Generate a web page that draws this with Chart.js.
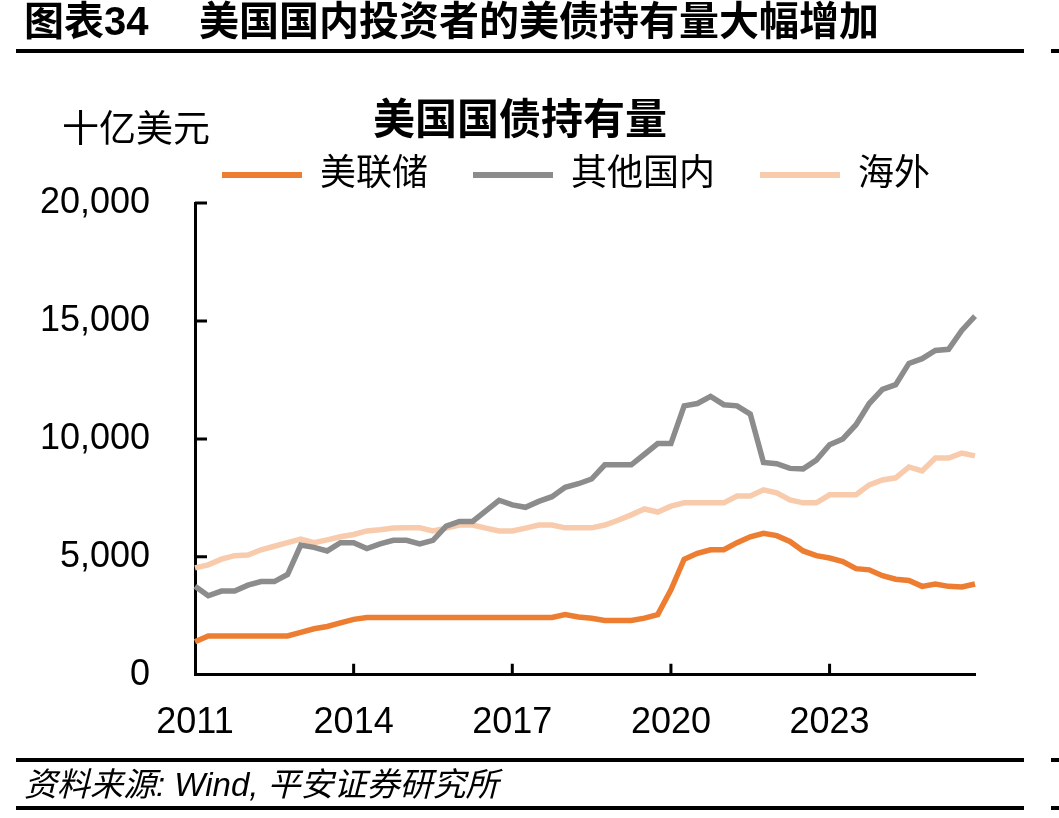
<!DOCTYPE html>
<html lang="zh-CN">
<head>
    <meta charset="UTF-8">
    <title>美国国债持有量</title>
    <script src="https://cdn.jsdelivr.net/npm/chart.js"></script>
    <style>
        body { margin: 0; background: #fff; font-family: "Liberation Sans", "Noto Sans CJK SC", sans-serif; }
        .page { position: relative; width: 1059px; height: 818px; overflow: hidden; background: #fff; }
        #holdChart { position: absolute; left: 0; top: 0; }
        .txt { position: absolute; white-space: nowrap; line-height: 1; color: #000; }
        .rule { position: absolute; background: #000; }
    </style>
</head>
<body>
<div class="page">
    <canvas id="holdChart" width="1059" height="818"></canvas>

    <div class="txt" style="left:24px; top:1px; font-size:40px; font-weight:bold;">图表34</div>
    <div class="txt" style="left:199px; top:1px; font-size:40px; font-weight:bold;">美国国内投资者的美债持有量大幅增加</div>
    <div class="rule" style="left:16px; top:49px; width:1008px; height:4px;"></div>
    <div class="rule" style="left:1051px; top:49px; width:8px; height:4px;"></div>

    <div class="txt" style="left:373px; top:99px; font-size:42px; font-weight:bold;">美国国债持有量</div>
    <div class="txt" style="left:62px; top:111px; font-size:37px;">十亿美元</div>

    <div class="rule" style="left:16px; top:758px; width:1008px; height:4px;"></div>
    <div class="rule" style="left:1051px; top:758px; width:8px; height:4px;"></div>
    <div class="txt" style="left:24px; top:768px; font-size:33px; font-style:italic;">资料来源: Wind, 平安证券研究所</div>
    <div class="rule" style="left:16px; top:806px; width:1008px; height:4px;"></div>
    <div class="rule" style="left:1051px; top:806px; width:8px; height:4px;"></div>
</div>

<script>
    // quarterly, 2011Q1 - 2025Q4
    const years = ['2011', '2012', '2013', '2014', '2015', '2016', '2017', '2018',
                   '2019', '2020', '2021', '2022', '2023', '2024', '2025'];
    const quarters = [];
    years.forEach(y => ['Q1', 'Q2', 'Q3', 'Q4'].forEach(q => quarters.push(y + q)));

    const xTickYears = ['2011', '2014', '2017', '2020', '2023'];
    const yTicks = [0, 5000, 10000, 15000, 20000];

    // 十亿美元
    const fedHoldings = [
        1400, 1650, 1650, 1650, 1650, 1650, 1650, 1650, 1800, 1950,
        2050, 2200, 2350, 2430, 2430, 2430, 2430, 2430, 2430, 2430,
        2430, 2430, 2430, 2430, 2430, 2430, 2430, 2430, 2550, 2450,
        2400, 2300, 2300, 2300, 2400, 2550, 3600, 4900, 5150, 5300,
        5300, 5600, 5850, 6000, 5900, 5650, 5250, 5050, 4950, 4800,
        4500, 4450, 4200, 4050, 4000, 3750, 3850, 3750, 3720, 3850
    ];
    const otherDomestic = [
        3750, 3350, 3550, 3550, 3800, 3950, 3950, 4250, 5500, 5400,
        5250, 5600, 5600, 5350, 5550, 5700, 5700, 5550, 5700, 6300,
        6500, 6500, 6950, 7400, 7200, 7100, 7350, 7550, 7950, 8100,
        8300, 8900, 8900, 8900, 9350, 9800, 9800, 11400, 11500, 11800,
        11450, 11400, 11050, 9000, 8950, 8750, 8730, 9100, 9750, 10000,
        10600, 11500, 12100, 12300, 13200, 13400, 13750, 13800, 14600, 15200
    ];
    const foreignHoldings = [
        4530, 4660, 4900, 5050, 5080, 5300, 5450, 5600, 5750, 5600,
        5720, 5850, 5950, 6100, 6150, 6220, 6230, 6230, 6100, 6220,
        6350, 6350, 6220, 6100, 6100, 6220, 6350, 6350, 6230, 6230,
        6230, 6350, 6550, 6780, 7030, 6900, 7150, 7290, 7290, 7290,
        7290, 7580, 7580, 7840, 7710, 7410, 7290, 7290, 7630, 7630,
        7630, 8050, 8260, 8350, 8810, 8640, 9190, 9190, 9400, 9280
    ];

    const fontFamily = '"Liberation Sans", "Noto Sans CJK SC", sans-serif';

    function isYearTick(i) {
        const q = quarters[i];
        return q.endsWith('Q1') && xTickYears.includes(q.slice(0, 4));
    }

    // short tick marks pointing into the plot
    const innerTicks = {
        id: 'innerTicks',
        afterDraw(chart) {
            const { ctx, chartArea, scales: { x, y } } = chart;
            ctx.save();
            ctx.strokeStyle = '#000';
            ctx.lineWidth = 3;
            ctx.beginPath();
            yTicks.slice(1).forEach(v => {
                const py = y.getPixelForValue(v);
                ctx.moveTo(chartArea.left, py);
                ctx.lineTo(chartArea.left + 12, py);
            });
            quarters.forEach((q, i) => {
                if (i > 0 && isYearTick(i)) {
                    const px = x.getPixelForValue(i);
                    ctx.moveTo(px, chartArea.bottom);
                    ctx.lineTo(px, chartArea.bottom - 11);
                }
            });
            ctx.stroke();
            ctx.restore();
        }
    };

    new Chart(document.getElementById('holdChart'), {
        type: 'line',
        data: {
            labels: quarters,
            datasets: [
                { label: '美联储', data: fedHoldings, borderColor: '#ED7D31', backgroundColor: '#ED7D31' },
                { label: '其他国内', data: otherDomestic, borderColor: '#8C8C8C', backgroundColor: '#8C8C8C' },
                { label: '海外', data: foreignHoldings, borderColor: '#F8CBAD', backgroundColor: '#F8CBAD' }
            ]
        },
        options: {
            responsive: false,
            animation: false,
            elements: {
                line: { borderWidth: 5.5, tension: 0 },
                point: { radius: 0 }
            },
            layout: { padding: { top: 112, left: 0, right: 84, bottom: 46 } },
            plugins: {
                tooltip: { enabled: false },
                legend: {
                    position: 'top',
                    align: 'end',
                    labels: {
                        boxWidth: 80,
                        boxHeight: 6,
                        padding: 45,
                        color: '#000',
                        font: { family: fontFamily, size: 36 },
                        generateLabels: chart => chart.data.datasets.map((ds, i) => ({
                            text: ds.label,
                            fillStyle: ds.borderColor,
                            strokeStyle: ds.borderColor,
                            lineWidth: 0,
                            hidden: false,
                            datasetIndex: i
                        }))
                    }
                }
            },
            scales: {
                x: {
                    grid: { display: true, drawOnChartArea: false, drawTicks: false },
                    border: { color: '#000', width: 3 },
                    ticks: {
                        autoSkip: false,
                        maxRotation: 0,
                        padding: 27,
                        color: '#000',
                        font: { family: fontFamily, size: 36 },
                        callback: (v, i) => isYearTick(i) ? quarters[i].slice(0, 4) : ''
                    },
                    afterFit: s => { s.paddingLeft = 0; s.paddingRight = 0; }
                },
                y: {
                    min: 0,
                    max: 20000,
                    grid: { display: true, drawOnChartArea: false, drawTicks: false },
                    border: { color: '#000', width: 3 },
                    afterBuildTicks: s => { s.ticks = yTicks.map(v => ({ value: v })); },
                    ticks: {
                        padding: 45,
                        color: '#000',
                        font: { family: fontFamily, size: 36 },
                        callback: v => v.toLocaleString('en-US')
                    },
                    afterFit: s => { s.width = 195; }
                }
            }
        },
        plugins: [innerTicks]
    });
</script>
</body>
</html>
